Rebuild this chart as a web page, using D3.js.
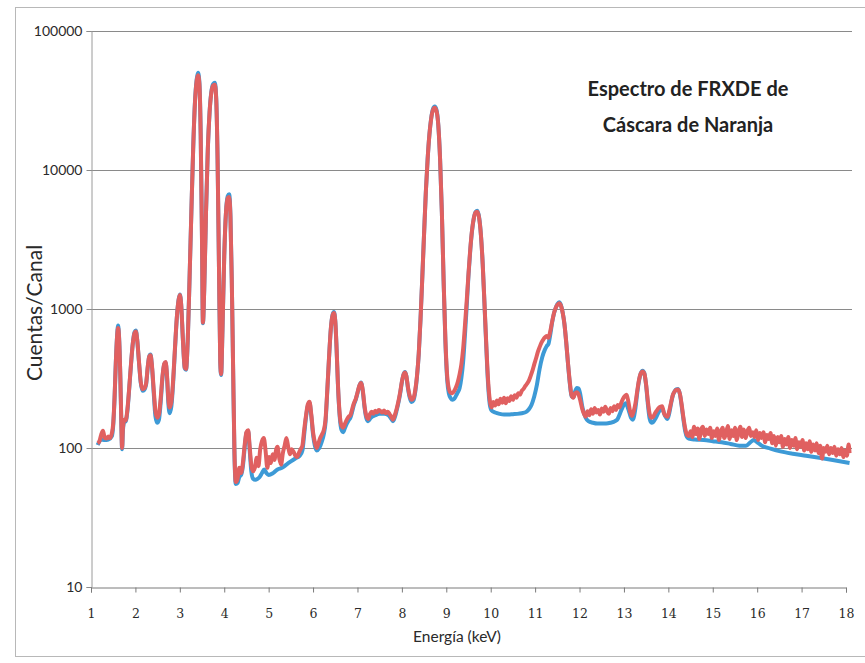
<!DOCTYPE html>
<html>
<head>
<meta charset="utf-8">
<script src="https://cdn.jsdelivr.net/npm/d3@7"></script>
<style>
  html, body { margin: 0; padding: 0; background: #fff; }
  svg { display: block; }
</style>
</head>
<body>
<svg id="chart" width="865" height="663"></svg>
<script>
// Espectro FRXDE: energía (keV) frente a cuentas por canal, dos medidas superpuestas.
const xTicks = d3.range(1, 19);
const yTicks = [10, 100, 1000, 10000, 100000];
const yTickLabels = ["10", "100", "1000", "10000", "100000"];
const titleLines = ["Espectro de FRXDE de", "Cáscara de Naranja"];

// Medida roja: [energía keV, cuentas]
const espectroRojo = [
  [1.15,108],[1.19,112],[1.23,125],[1.27,133],[1.31,118],[1.35,117],[1.39,121],[1.43,118],[1.47,128],[1.50,150],
  [1.53,230],[1.56,420],[1.59,650],[1.61,730],[1.63,640],[1.66,330],[1.68,170],[1.70,100],[1.72,140],[1.75,160],
  [1.78,158],[1.82,190],[1.86,270],[1.90,400],[1.94,560],[1.98,670],[2.01,690],[2.04,600],[2.08,420],[2.12,300],
  [2.16,265],[2.20,268],[2.24,290],[2.28,390],[2.31,455],[2.34,465],[2.37,400],[2.41,270],[2.45,185],[2.49,165],
  [2.53,175],[2.57,230],[2.61,330],[2.65,405],[2.68,415],[2.71,340],[2.74,230],[2.77,195],[2.81,215],[2.85,310],
  [2.89,520],[2.93,850],[2.97,1150],[3.00,1260],[3.03,1080],[3.07,600],[3.11,380],[3.14,370],[3.18,620],[3.22,1700],
  [3.26,5000],[3.30,14000],[3.34,30000],[3.38,44000],[3.41,48000],[3.44,42000],[3.47,18000],[3.50,3000],[3.52,800],[3.55,1400],
  [3.59,5000],[3.63,14000],[3.67,26000],[3.71,36000],[3.75,40500],[3.79,41000],[3.82,32000],[3.85,12000],[3.88,2200],[3.91,420],
  [3.93,340],[3.96,700],[4.00,2400],[4.04,5000],[4.08,6300],[4.11,6400],[4.14,4600],[4.17,1600],[4.20,380],[4.23,95],
  [4.26,57],[4.30,60],[4.34,72],[4.38,66],[4.42,78],[4.46,105],[4.50,130],[4.54,134],[4.57,105],[4.61,75],
  [4.65,68],[4.69,72],[4.73,85],[4.77,74],[4.81,98],[4.85,112],[4.89,118],[4.93,96],[4.97,72],[5.01,86],
  [5.05,78],[5.09,90],[5.13,82],[5.17,98],[5.20,102],[5.24,84],[5.28,76],[5.32,92],[5.36,104],[5.40,118],
  [5.44,102],[5.48,90],[5.52,98],[5.56,94],[5.60,88],[5.64,86],[5.68,92],[5.72,98],[5.76,104],[5.80,135],
  [5.84,170],[5.88,205],[5.92,215],[5.96,175],[6.00,130],[6.04,110],[6.08,100],[6.12,108],[6.16,118],[6.20,125],
  [6.24,134],[6.28,160],[6.32,260],[6.36,450],[6.40,720],[6.44,900],[6.47,935],[6.50,820],[6.53,520],[6.56,290],
  [6.60,175],[6.64,145],[6.68,140],[6.72,150],[6.76,160],[6.80,168],[6.84,172],[6.88,190],[6.92,210],[6.96,225],
  [7.00,250],[7.04,280],[7.08,294],[7.12,260],[7.16,200],[7.20,170],[7.24,162],[7.28,175],[7.32,182],[7.36,176],
  [7.40,185],[7.44,180],[7.48,188],[7.52,184],[7.56,180],[7.60,186],[7.64,178],[7.68,182],[7.72,176],[7.76,168],
  [7.80,160],[7.84,172],[7.88,190],[7.92,215],[7.96,250],[8.00,300],[8.04,340],[8.07,350],[8.10,330],[8.14,270],
  [8.18,235],[8.22,222],[8.26,228],[8.30,260],[8.34,330],[8.38,480],[8.42,850],[8.46,1700],[8.50,3500],[8.54,7000],
  [8.58,12000],[8.62,18000],[8.66,23500],[8.70,27000],[8.74,28000],[8.78,26500],[8.82,21000],[8.86,12000],[8.90,5000],[8.94,1600],
  [8.98,600],[9.02,330],[9.06,265],[9.10,250],[9.14,248],[9.18,258],[9.22,275],[9.26,300],[9.30,340],[9.34,400],
  [9.38,520],[9.42,760],[9.46,1150],[9.50,1800],[9.54,2700],[9.58,3700],[9.62,4500],[9.66,4950],[9.70,5000],[9.74,4500],
  [9.78,3400],[9.82,2100],[9.86,1100],[9.90,560],[9.94,310],[9.98,220],[10.02,196],[10.06,214],[10.10,202],[10.14,220],
  [10.18,206],[10.22,226],[10.26,212],[10.30,230],[10.34,210],[10.38,228],[10.42,218],[10.46,236],[10.50,222],[10.54,240],
  [10.58,230],[10.62,248],[10.66,242],[10.70,258],[10.74,266],[10.78,280],[10.82,290],[10.86,305],[10.90,330],[10.94,360],
  [10.98,400],[11.02,440],[11.06,490],[11.10,530],[11.14,570],[11.18,600],[11.22,625],[11.26,640],[11.30,620],[11.34,690],
  [11.38,800],[11.42,920],[11.46,1010],[11.50,1070],[11.54,1100],[11.58,1060],[11.62,940],[11.66,780],[11.70,580],[11.74,410],
  [11.78,300],[11.82,240],[11.86,230],[11.90,248],[11.94,252],[11.98,242],[12.02,218],[12.06,192],[12.10,176],[12.14,168],
  [12.18,184],[12.22,172],[12.26,190],[12.30,176],[12.34,194],[12.38,180],[12.42,188],[12.46,174],[12.50,192],[12.54,182],
  [12.58,198],[12.62,184],[12.66,176],[12.70,194],[12.74,184],[12.78,200],[12.82,188],[12.86,204],[12.90,196],[12.94,212],
  [12.98,226],[13.02,236],[13.06,242],[13.10,215],[13.14,182],[13.18,170],[13.22,184],[13.26,210],[13.30,258],[13.34,310],
  [13.38,345],[13.42,355],[13.46,342],[13.50,285],[13.54,215],[13.58,175],[13.62,165],[13.66,168],[13.70,178],[13.74,186],
  [13.78,194],[13.82,198],[13.86,200],[13.90,178],[13.94,170],[13.98,168],[14.02,185],[14.06,212],[14.10,240],[14.14,255],
  [14.18,262],[14.22,264],[14.26,245],[14.30,205],[14.34,165],[14.38,138],[14.42,124],[14.46,122],[14.50,132],[14.54,120],
  [14.58,142],[14.62,126],[14.66,138],[14.70,116],[14.74,136],[14.78,142],[14.82,122],[14.86,136],[14.90,126],[14.94,140],
  [14.98,118],[15.02,132],[15.06,122],[15.10,138],[15.14,114],[15.18,130],[15.22,140],[15.26,118],[15.30,128],[15.34,144],
  [15.38,116],[15.42,134],[15.46,122],[15.50,140],[15.54,114],[15.58,130],[15.62,142],[15.66,120],[15.70,136],[15.74,118],
  [15.78,132],[15.82,140],[15.86,122],[15.90,130],[15.94,120],[15.98,134],[16.02,114],[16.06,128],[16.10,118],[16.14,130],
  [16.18,110],[16.22,124],[16.26,116],[16.30,128],[16.34,108],[16.38,122],[16.42,104],[16.46,120],[16.50,110],[16.54,122],
  [16.58,102],[16.62,116],[16.66,106],[16.70,120],[16.74,100],[16.78,114],[16.82,104],[16.86,118],[16.90,98],[16.94,110],
  [16.98,102],[17.02,114],[17.06,96],[17.10,108],[17.14,98],[17.18,112],[17.22,94],[17.26,106],[17.30,96],[17.34,108],
  [17.38,92],[17.42,104],[17.46,84],[17.50,100],[17.54,94],[17.58,104],[17.62,90],[17.66,100],[17.70,92],[17.74,102],
  [17.78,88],[17.82,98],[17.86,90],[17.90,100],[17.94,86],[17.98,96],[18.02,88],[18.06,106],[18.08,92]
];

// Medida azul: [energía keV, cuentas]
const espectroAzul = [
  [1.15,105],[1.23,115],[1.31,114],[1.39,115],[1.47,122],[1.50,145],[1.53,225],[1.56,420],[1.59,660],[1.61,760],
  [1.63,650],[1.66,330],[1.68,165],[1.70,98],[1.72,135],[1.75,155],[1.78,155],[1.82,185],[1.86,265],[1.90,395],
  [1.94,560],[1.98,680],[2.01,700],[2.04,600],[2.08,415],[2.12,295],[2.16,258],[2.20,262],[2.24,285],[2.28,385],
  [2.31,455],[2.34,470],[2.37,395],[2.41,255],[2.45,170],[2.49,152],[2.53,160],[2.57,215],[2.61,320],[2.65,400],
  [2.68,412],[2.71,330],[2.74,215],[2.77,178],[2.81,200],[2.85,295],[2.89,505],[2.93,840],[2.97,1150],[3.00,1270],
  [3.03,1080],[3.07,595],[3.11,375],[3.14,365],[3.18,615],[3.22,1700],[3.26,5000],[3.30,14000],[3.34,30500],[3.38,45000],
  [3.41,50000],[3.44,43000],[3.47,18000],[3.50,3000],[3.52,790],[3.55,1400],[3.59,5000],[3.63,14000],[3.67,26000],[3.71,36500],
  [3.75,41500],[3.79,42500],[3.82,32500],[3.85,12000],[3.88,2200],[3.91,415],[3.93,335],[3.96,700],[4.00,2400],[4.04,5000],
  [4.08,6500],[4.11,6700],[4.14,4700],[4.17,1600],[4.20,370],[4.23,90],[4.26,55],[4.30,56],[4.34,62],[4.38,64],
  [4.42,74],[4.46,100],[4.50,128],[4.54,132],[4.57,100],[4.61,68],[4.65,60],[4.70,59],[4.75,60],[4.80,62],
  [4.85,66],[4.90,70],[4.95,66],[5.00,64],[5.10,66],[5.20,70],[5.30,72],[5.40,76],[5.50,80],[5.60,84],
  [5.70,88],[5.76,96],[5.80,125],[5.84,165],[5.88,200],[5.92,212],[5.96,170],[6.00,125],[6.04,104],[6.08,96],
  [6.14,100],[6.20,112],[6.24,125],[6.28,152],[6.32,255],[6.36,445],[6.40,720],[6.44,910],[6.47,950],[6.50,820],
  [6.53,515],[6.56,285],[6.60,168],[6.64,135],[6.68,130],[6.72,140],[6.76,150],[6.80,158],[6.84,165],[6.88,182],
  [6.92,205],[6.96,222],[7.00,248],[7.04,278],[7.08,296],[7.12,255],[7.16,195],[7.20,164],[7.24,156],[7.30,165],
  [7.40,172],[7.50,176],[7.60,176],[7.70,172],[7.76,162],[7.80,156],[7.84,166],[7.88,185],[7.92,210],[7.96,245],
  [8.00,298],[8.04,340],[8.07,352],[8.10,330],[8.14,265],[8.18,228],[8.22,214],[8.26,220],[8.30,252],[8.34,325],
  [8.38,475],[8.42,850],[8.46,1700],[8.50,3500],[8.54,7000],[8.58,12000],[8.62,18000],[8.66,23600],[8.70,27500],[8.74,28600],
  [8.78,27000],[8.82,21000],[8.86,12000],[8.90,5000],[8.94,1580],[8.98,580],[9.02,310],[9.06,245],[9.10,228],[9.14,222],
  [9.18,226],[9.22,238],[9.26,252],[9.30,270],[9.34,320],[9.38,420],[9.42,650],[9.46,1050],[9.50,1750],[9.54,2650],
  [9.58,3650],[9.62,4500],[9.66,5000],[9.70,5100],[9.74,4550],[9.78,3400],[9.82,2100],[9.86,1080],[9.90,540],[9.94,290],
  [9.98,205],[10.02,186],[10.10,180],[10.20,176],[10.30,174],[10.40,174],[10.50,175],[10.60,176],[10.70,178],[10.80,182],
  [10.86,190],[10.92,205],[10.98,235],[11.04,285],[11.10,370],[11.16,450],[11.22,510],[11.26,540],[11.30,560],[11.34,650],
  [11.38,790],[11.42,915],[11.46,1010],[11.50,1080],[11.54,1120],[11.58,1070],[11.62,945],[11.66,780],[11.70,575],[11.74,405],
  [11.78,295],[11.82,236],[11.86,232],[11.90,255],[11.94,270],[11.98,268],[12.02,240],[12.06,200],[12.10,178],[12.14,165],
  [12.20,156],[12.30,152],[12.40,150],[12.50,150],[12.60,150],[12.70,152],[12.80,156],[12.86,162],[12.92,180],[12.98,200],
  [13.04,210],[13.10,190],[13.16,165],[13.20,160],[13.26,195],[13.30,250],[13.34,305],[13.38,345],[13.42,360],[13.46,345],
  [13.50,280],[13.54,205],[13.58,162],[13.62,152],[13.66,154],[13.72,165],[13.80,185],[13.86,192],[13.92,172],[13.98,162],
  [14.02,178],[14.06,208],[14.10,238],[14.14,255],[14.18,264],[14.22,266],[14.26,244],[14.30,200],[14.34,160],[14.38,132],
  [14.42,120],[14.46,117],[14.60,115],[14.80,114],[15.00,112],[15.20,110],[15.40,107],[15.60,104],[15.75,104],[15.85,110],
  [15.92,114],[16.00,110],[16.10,104],[16.30,99],[16.50,95],[16.80,91],[17.10,88],[17.40,85],[17.70,82],[18.08,78]
];

const colorRojo = "#e06060";
const colorAzul = "#3d9ad6";

const svg = d3.select("#chart");
const plot = { left: 91, right: 846, top: 31, bottom: 587 };

const x = d3.scaleLinear().domain([1, 18]).range([plot.left, plot.right]);
const y = d3.scaleLog().domain([10, 100000]).range([plot.bottom, plot.top]);

// Marco exterior del gráfico
svg.append("rect")
  .attr("x", 15.5).attr("y", 7.5)
  .attr("width", 860).attr("height", 649)
  .attr("fill", "none")
  .attr("stroke", "#b8b8b8")
  .attr("stroke-width", 1);

// Líneas de cuadrícula horizontales en cada década
svg.append("g")
  .selectAll("line")
  .data(yTicks.filter(v => v > 10))
  .join("line")
  .attr("x1", plot.left).attr("x2", plot.right + 6)
  .attr("y1", d => Math.round(y(d)) + 0.5)
  .attr("y2", d => Math.round(y(d)) + 0.5)
  .attr("stroke", "#8a8a8a")
  .attr("stroke-width", 1);

// Eje vertical (logarítmico)
const yAxis = d3.axisLeft(y)
  .tickValues(yTicks)
  .tickFormat((d, i) => yTickLabels[i])
  .tickSize(5)
  .tickPadding(4);

const gy = svg.append("g")
  .attr("transform", `translate(${plot.left + 0.5},0)`)
  .call(yAxis);
gy.select(".domain").attr("stroke", "#9a9a9a");
gy.selectAll(".tick line").attr("stroke", "#8a8a8a");
gy.selectAll(".tick text")
  .attr("font-family", "Lato, 'Open Sans', sans-serif")
  .attr("font-size", 14)
  .attr("fill", "#2a2a2a");

// Eje horizontal
const xAxis = d3.axisBottom(x)
  .tickValues(xTicks)
  .tickFormat(d3.format("d"))
  .tickSize(5)
  .tickPadding(17);

const gx = svg.append("g")
  .attr("transform", `translate(0,${plot.bottom + 0.5})`)
  .call(xAxis);
gx.select(".domain").attr("stroke", "#7a7a7a");
gx.selectAll(".tick line").attr("stroke", "#7a7a7a");
gx.selectAll(".tick text")
  .attr("font-family", "'DejaVu Serif', 'Liberation Serif', serif")
  .attr("font-size", 12.5)
  .attr("fill", "#2a2a2a");

// Curvas del espectro
const line = d3.line()
  .x(d => x(d[0]))
  .y(d => y(d[1]))
  .curve(d3.curveMonotoneX);

svg.append("path")
  .datum(espectroAzul)
  .attr("d", line)
  .attr("fill", "none")
  .attr("stroke", colorAzul)
  .attr("stroke-width", 4)
  .attr("stroke-linejoin", "round");

svg.append("path")
  .datum(espectroRojo)
  .attr("d", line)
  .attr("fill", "none")
  .attr("stroke", colorRojo)
  .attr("stroke-width", 4)
  .attr("stroke-linejoin", "round");

// Títulos de ejes
svg.append("text")
  .attr("x", 457).attr("y", 642)
  .attr("text-anchor", "middle")
  .attr("font-family", "Lato, 'Open Sans', sans-serif")
  .attr("font-size", 15.5)
  .attr("fill", "#2a2a2a")
  .text("Energía (keV)");

svg.append("text")
  .attr("transform", "translate(42,313) rotate(-90)")
  .attr("text-anchor", "middle")
  .attr("font-family", "Lato, 'Open Sans', sans-serif")
  .attr("font-size", 21)
  .attr("fill", "#2a2a2a")
  .text("Cuentas/Canal");

// Título del gráfico
svg.append("g")
  .selectAll("text")
  .data(titleLines)
  .join("text")
  .attr("x", 688)
  .attr("y", (d, i) => 96 + i * 36)
  .attr("text-anchor", "middle")
  .attr("font-family", "Lato, 'Open Sans', sans-serif")
  .attr("font-weight", "bold")
  .attr("font-size", 20)
  .attr("fill", "#222")
  .text(d => d);
</script>
</body>
</html>
